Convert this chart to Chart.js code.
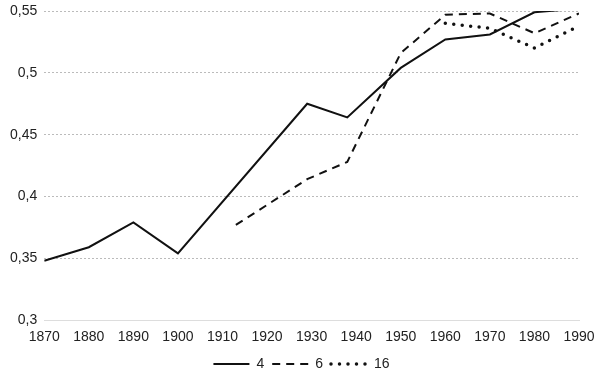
<!DOCTYPE html>
<html>
<head>
<meta charset="utf-8">
<script src="https://cdn.jsdelivr.net/npm/chart.js@4"></script>
<style>
    body { margin: 0; background: #fff; }
    #wrap { width: 600px; height: 378px; position: relative; }
</style>
</head>
<body>
<div id="wrap"><canvas id="graphique"></canvas></div>
<script>
    // DONNEES
    const xTicks = [1870, 1880, 1890, 1900, 1910, 1920, 1930, 1940, 1950, 1960, 1970, 1980, 1990];
    const yTickLabels = ['0,3', '0,35', '0,4', '0,45', '0,5', '0,55'];

    const serie4Years = [1870, 1880, 1890, 1900, 1929, 1938, 1950, 1960, 1970, 1980, 1990];
    const serie4Values = [0.348, 0.359, 0.379, 0.354, 0.475, 0.464, 0.504, 0.527, 0.531, 0.549, 0.552];

    const serie6Years = [1913, 1929, 1938, 1950, 1960, 1970, 1980, 1990];
    const serie6Values = [0.377, 0.414, 0.428, 0.516, 0.547, 0.548, 0.532, 0.548];

    const serie16Years = [1960, 1970, 1980, 1990];
    const serie16Values = [0.540, 0.536, 0.520, 0.538];

    const seriesLabels = ['4', '6', '16'];

    function toPoints(years, values) {
        return years.map((year, i) => ({ x: year, y: values[i] }));
    }

    Chart.defaults.font.family = '"Liberation Sans", Arial, sans-serif';
    Chart.defaults.font.size = 14;
    Chart.defaults.color = '#222';

    const ctx = document.getElementById('graphique').getContext('2d');

    new Chart(ctx, {
        type: 'line',
        data: {
            datasets: [{
                label: seriesLabels[0],
                data: toPoints(serie4Years, serie4Values),
                borderColor: '#111',
                backgroundColor: '#111',
                borderWidth: 2,
                pointRadius: 0,
                tension: 0,
            }, {
                label: seriesLabels[1],
                data: toPoints(serie6Years, serie6Values),
                borderColor: '#111',
                backgroundColor: '#111',
                borderWidth: 2,
                borderDash: [8, 6],
                pointRadius: 0,
                tension: 0,
            }, {
                label: seriesLabels[2],
                data: toPoints(serie16Years, serie16Values),
                borderColor: '#111',
                backgroundColor: '#111',
                borderWidth: 3.5,
                borderDash: [0, 8.5],
                borderCapStyle: 'round',
                pointRadius: 0,
                tension: 0,
            }]
        },
        options: {
            responsive: true,
            maintainAspectRatio: false,
            animation: false,
            layout: {
                padding: { top: 0, right: 0, bottom: -3, left: 3 }
            },
            plugins: {
                legend: {
                    display: true,
                    position: 'bottom',
                    labels: {
                        usePointStyle: true,
                        pointStyle: 'line',
                        pointStyleWidth: 36,
                        boxHeight: 10,
                        padding: 8,
                        color: '#222',
                        // ON REPREND LE STYLE DES LIGNES (POINTILLES) DANS LA LEGENDE
                        generateLabels: (chart) => chart.data.datasets.map((ds, i) => ({
                            text: ds.label,
                            datasetIndex: i,
                            fillStyle: ds.borderColor,
                            strokeStyle: ds.borderColor,
                            fontColor: '#222',
                            lineWidth: ds.borderWidth,
                            lineDash: ds.borderDash || [],
                            lineCap: ds.borderCapStyle || 'butt',
                            pointStyle: 'line',
                            hidden: false,
                        })),
                    }
                },
                tooltip: { enabled: false },
            },
            scales: {
                x: {
                    type: 'linear',
                    min: xTicks[0],
                    max: xTicks[xTicks.length - 1],
                    afterBuildTicks: (scale) => {
                        scale.ticks = xTicks.map(v => ({ value: v }));
                    },
                    afterFit: (scale) => {
                        scale.height -= 6;
                        scale.paddingRight = 21;
                    },
                    ticks: {
                        maxRotation: 0,
                        autoSkip: false,
                        padding: 9,
                        callback: (value) => String(value),
                    },
                    grid: { display: false, drawTicks: false },
                    border: { display: true, color: '#ddd', width: 1 },
                },
                y: {
                    min: 0.3,
                    max: 0.55,
                    afterFit: (scale) => {
                        scale.paddingTop = 11;
                    },
                    ticks: {
                        stepSize: 0.05,
                        padding: 7,
                        callback: (value) => {
                            const idx = Math.round((value - 0.3) / 0.05);
                            return yTickLabels[idx];
                        },
                    },
                    grid: {
                        drawTicks: false,
                        color: (c) => c.index === 0 ? 'rgba(0,0,0,0)' : '#bbb',
                        lineWidth: 1,
                    },
                    border: { display: false, dash: [2, 2] },
                },
            },
        },
    });
</script>
</body>
</html>
